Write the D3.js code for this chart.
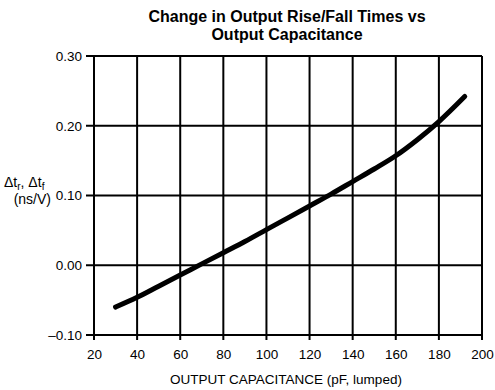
<!DOCTYPE html>
<html>
<head>
<meta charset="utf-8">
<script src="https://cdn.jsdelivr.net/npm/d3@7"></script>
<style>
  html, body { margin: 0; padding: 0; background: #fff; }
  svg { display: block; font-family: "Liberation Sans", Arial, Helvetica, sans-serif; }
</style>
</head>
<body>
<svg id="chart" width="495" height="390"></svg>
<script>
// Capacitance (pF) along the curve
const capacitance = [30, 40, 50, 60, 70, 80, 90, 100, 110, 120, 130, 140, 150, 160, 170, 180, 192];
// Change in rise/fall time (ns/V)
const deltaT = [-0.060, -0.046, -0.030, -0.014, 0.002, 0.018, 0.034, 0.051, 0.068, 0.085, 0.102, 0.120, 0.138, 0.157, 0.180, 0.206, 0.242];

const xTicks = [20, 40, 60, 80, 100, 120, 140, 160, 180, 200];
const yTicks = [-0.10, 0.00, 0.10, 0.20, 0.30];
const titleLines = ["Change in Output Rise/Fall Times vs", "Output Capacitance"];
const xTitle = "OUTPUT CAPACITANCE (pF, lumped)";

const svg = d3.select("#chart");
const plot = { left: 94, right: 482, top: 56, bottom: 335 };

const x = d3.scaleLinear().domain([20, 200]).range([plot.left, plot.right]);
const y = d3.scaleLinear().domain([-0.10, 0.30]).range([plot.bottom, plot.top]);

// Title
svg.append("text")
  .attr("text-anchor", "middle")
  .attr("font-size", 16).attr("font-weight", "bold")
  .selectAll("tspan").data(titleLines).join("tspan")
  .attr("x", 287).attr("y", (d, i) => 22 + i * 17.5)
  .text(d => d);

// Grid with outward tick stubs
const grid = svg.append("g").attr("stroke", "#000").attr("stroke-width", 2);
grid.selectAll("line.v").data(xTicks).join("line")
  .attr("class", "v")
  .attr("x1", d => x(d)).attr("x2", d => x(d))
  .attr("y1", plot.top).attr("y2", plot.bottom + 5);
grid.selectAll("line.h").data(yTicks).join("line")
  .attr("class", "h")
  .attr("x1", plot.left - 8).attr("x2", plot.right)
  .attr("y1", d => y(d)).attr("y2", d => y(d));

// Tick labels through d3 axes (their lines come from the grid)
const fmtY = d => (d < 0 ? "\u2013" + Math.abs(d).toFixed(2) : d.toFixed(2));
const yAxis = svg.append("g")
  .attr("transform", `translate(${plot.left - 8},0)`)
  .call(d3.axisLeft(y).tickValues(yTicks).tickFormat(fmtY).tickSize(0).tickPadding(4));
yAxis.select(".domain").remove();
yAxis.selectAll("text").attr("font-size", 13.5).attr("fill", "#000")
  .attr("font-family", "Liberation Sans, Arial, sans-serif");

const xAxis = svg.append("g")
  .attr("transform", `translate(0,${plot.bottom + 5})`)
  .call(d3.axisBottom(x).tickValues(xTicks).tickFormat(d3.format("d")).tickSize(0).tickPadding(9));
xAxis.select(".domain").remove();
xAxis.selectAll("text").attr("font-size", 13.5).attr("fill", "#000")
  .attr("font-family", "Liberation Sans, Arial, sans-serif");

// X axis title
svg.append("text")
  .attr("x", 286).attr("y", 384)
  .attr("text-anchor", "middle")
  .attr("font-size", 13.5)
  .text(xTitle);

// Y axis title: Δt_r, Δt_f  (ns/V)
const yl = svg.append("text")
  .attr("x", 4).attr("y", 187)
  .attr("font-size", 14);
yl.append("tspan").text("\u0394t");
yl.append("tspan").attr("font-size", 10).attr("dy", 3).text("r");
yl.append("tspan").attr("dy", -3).text(", \u0394t");
yl.append("tspan").attr("font-size", 10).attr("dy", 3).text("f");
svg.append("text")
  .attr("x", 51).attr("y", 204)
  .attr("text-anchor", "end")
  .attr("font-size", 14)
  .text("(ns/V)");

// Curve
const line = d3.line()
  .x((d, i) => x(capacitance[i]))
  .y(d => y(d))
  .curve(d3.curveMonotoneX);
svg.append("path")
  .datum(deltaT)
  .attr("d", line)
  .attr("fill", "none")
  .attr("stroke", "#000")
  .attr("stroke-width", 5)
  .attr("stroke-linecap", "round")
  .attr("stroke-linejoin", "round");
</script>
</body>
</html>
